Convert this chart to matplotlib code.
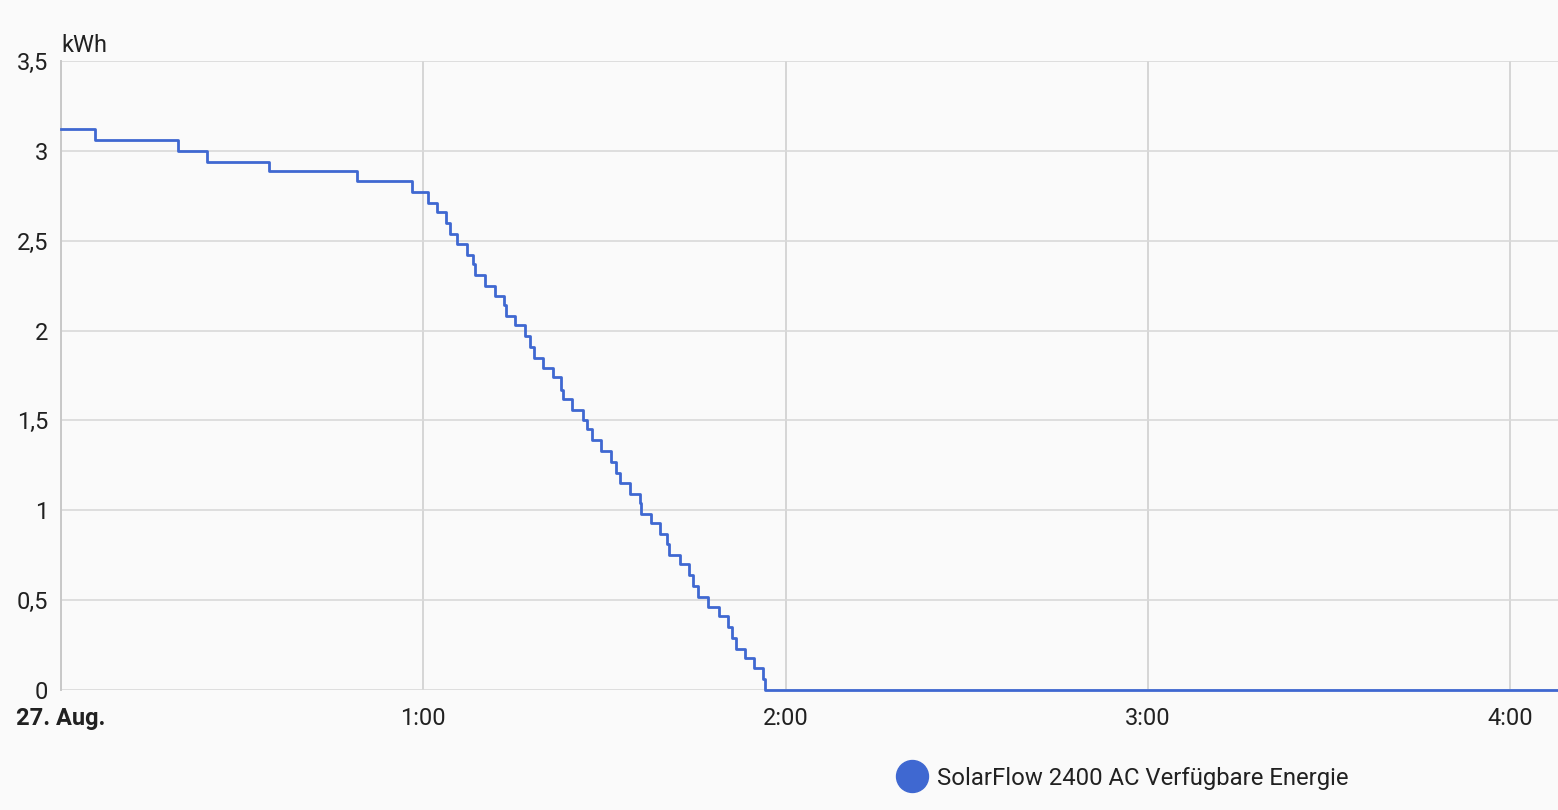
import matplotlib
matplotlib.use("Agg")
import matplotlib.pyplot as plt
from matplotlib.lines import Line2D
from matplotlib.ticker import FuncFormatter

# minutes after midnight (27. Aug.) at which the value changes, and the new value in kWh
minutes = [0, 5.6, 19.4, 24.1, 34.4, 49.0, 58.1, 60.7, 62.3, 63.7, 64.4, 65.5, 67.2,
           68.3, 68.6, 70.2, 71.9, 73.4, 73.7, 75.2, 76.8, 77.7, 78.4, 79.9, 81.4,
           82.8, 83.2, 84.7, 86.4, 87.1, 87.9, 89.4, 91.1, 91.9, 92.6, 94.2, 95.9,
           96.1, 97.7, 99.2, 100.3, 100.7, 102.5, 104.0, 104.6, 105.5, 107.2, 108.9,
           110.5, 111.1, 111.8, 113.3, 114.8, 116.3, 116.6, 247.9]
energy = [3.12, 3.06, 3.00, 2.94, 2.89, 2.83, 2.77, 2.71, 2.66, 2.60, 2.54, 2.48, 2.42,
          2.37, 2.31, 2.25, 2.19, 2.14, 2.08, 2.03, 1.97, 1.91, 1.85, 1.79, 1.74,
          1.67, 1.62, 1.56, 1.50, 1.45, 1.39, 1.33, 1.27, 1.21, 1.15, 1.09, 1.04,
          0.98, 0.93, 0.87, 0.81, 0.75, 0.70, 0.64, 0.58, 0.52, 0.46, 0.41,
          0.35, 0.29, 0.23, 0.18, 0.12, 0.06, 0.0, 0.0]
series_name = 'SolarFlow 2400 AC Verfügbare Energie'
x_ticks = [0, 60, 120, 180, 240]
x_labels = ['27. Aug.', '1:00', '2:00', '3:00', '4:00']
y_ticks = [0, 0.5, 1, 1.5, 2, 2.5, 3, 3.5]

LINE = '#3f68d1'
TXT = '#212121'
plt.rcParams['font.family'] = ['Roboto', 'DejaVu Sans']

fig = plt.figure(figsize=(15.58, 8.10), dpi=100, facecolor='#fafafa')
ax = fig.add_axes([61/1558, 1-690/810, 1-61/1558, (690-61)/810])
ax.set_facecolor('#fafafa')

ax.step(minutes, energy, where='post', color=LINE, lw=2.0, zorder=3, clip_on=False)

ax.set_xlim(0, 247.9)
ax.set_ylim(0, 3.5)
ax.set_xticks(x_ticks)
ax.set_xticklabels(x_labels)
ax.get_xticklabels()[0].set_fontweight('bold')
ax.set_yticks(y_ticks)
ax.yaxis.set_major_formatter(FuncFormatter(lambda v, p: ('%g' % v).replace('.', ',')))
ax.tick_params(axis='both', length=0, labelsize=17, labelcolor=TXT)
ax.tick_params(axis='x', pad=12)
ax.tick_params(axis='y', pad=9)

ax.grid(axis='y', color='#d9d9d9', lw=1.2)
ax.grid(axis='x', color='#cfcfcf', lw=1.2)
ax.set_axisbelow(True)
for s in ['top', 'right', 'bottom']:
    ax.spines[s].set_visible(False)
ax.spines['left'].set_color('#c8c8c8')
ax.spines['left'].set_linewidth(1.4)

ax.annotate('kWh', xy=(0, 1), xycoords='axes fraction', xytext=(0, 3),
            textcoords='offset points', fontsize=17, color=TXT, ha='left', va='bottom')

handle = Line2D([], [], marker='o', linestyle='none', markersize=23,
                markerfacecolor=LINE, markeredgecolor=LINE)
ax.legend(handles=[handle], labels=[series_name], loc='center',
          bbox_to_anchor=(1118/1558, 1-778/810), bbox_transform=fig.transFigure,
          frameon=False, fontsize=17.2, handletextpad=0.05, labelcolor=TXT)

plt.savefig('out.png', dpi=100, facecolor=fig.get_facecolor())
